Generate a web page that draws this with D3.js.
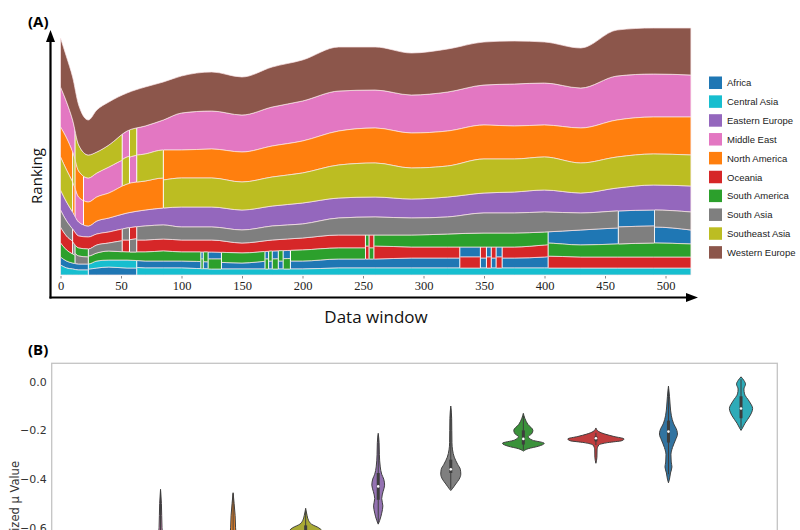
<!DOCTYPE html>
<html><head><meta charset="utf-8">
<script src="https://cdn.jsdelivr.net/npm/d3@7"></script>
<style>body{margin:0;background:#fff} svg{display:block}</style>
</head><body><svg id="c" width="800" height="530"></svg>
<script>
// ---------------- DATA ----------------
const regions = ["Africa","Central Asia","Eastern Europe","Middle East","North America","Oceania","South America","South Asia","Southeast Asia","Western Europe"];
const codes   = ["AF","CA","EE","ME","NA","OC","SA","SAs","SEA","WE"];
const colors  = ["#1f77b4","#17becf","#9467bd","#e377c2","#ff7f0e","#d62728","#2ca02c","#7f7f7f","#bcbd22","#8c564b"];

// data windows at which the ranking scores were read
const windows = [0,5,10,15,23,30,40,55,70,85,100,125,150,175,200,230,260,290,320,350,375,400,430,460,490,521];
const africa        = [8,7,6,6,6,7,8,7,7,7,7,7,6,8,8,9,9,10,10,10,10,11,15,16,16,14];
const centralAsia   = [10,7,6,5,5,7,7,8,7,7,7,6,6,6,6,7,7,7,7,7,7,7,7,7,7,7];
const easternEurope = [20,19,17,14,11,13,14,15,16,17,20,20,20,20,21,20,20,19,20,20,21,22,20,23,25,26];
const middleEast    = [40,36,32,25,24,24,26,26,28,30,37,38,37,39,40,40,38,38,39,40,42,42,40,44,43,42];
const northAmerica  = [30,32,30,26,24,24,25,29,29,30,28,29,30,31,32,34,35,35,35,34,33,32,35,37,37,38];
const oceania       = [16,14,13,12,12,11,11,12,12,12,12,12,10,11,12,13,13,11,11,11,11,12,11,11,11,11];
const southAmerica  = [14,11,9,8,8,8,9,8,9,10,9,10,10,10,11,11,11,12,13,14,14,13,12,13,14,13];
const southAsia     = [17,15,12,8,7,8,8,12,14,14,13,13,13,14,14,17,18,17,17,20,20,20,17,17,17,18];
const southeastAsia = [33,32,30,26,23,21,22,27,27,28,29,29,28,29,30,33,34,31,31,34,33,33,30,31,31,31];
const westernEurope = [49,45,43,40,35,42,43,38,39,38,37,39,38,40,41,44,43,42,43,43,43,41,40,46,46,47];
const seriesValues = [africa,centralAsia,easternEurope,middleEast,northAmerica,oceania,southAmerica,southAsia,southeastAsia,westernEurope];

// ranking order (top -> bottom) within window ranges
const rankSegments = [
  {from:0,  to:10,  order:"WE ME NA SEA EE SAs OC SA AF CA"},
  {from:10, to:12,  order:"WE ME SEA NA EE OC SAs SA AF CA"},
  {from:12, to:19,  order:"WE SEA NA ME EE OC SA SAs AF CA"},
  {from:19, to:23,  order:"WE SEA ME NA EE OC SA SAs AF CA"},
  {from:23, to:51,  order:"WE SEA ME NA EE OC SAs SA CA AF"},
  {from:51, to:57,  order:"WE ME SEA NA EE SAs OC SA CA AF"},
  {from:57, to:63,  order:"WE SEA ME NA EE OC SAs SA CA AF"},
  {from:63, to:85,  order:"WE ME SEA NA EE SAs OC SA AF CA"},
  {from:85, to:116, order:"WE ME NA SEA EE SAs OC SA AF CA"},
  {from:116,to:118, order:"WE ME NA SEA EE SAs OC AF SA CA"},
  {from:118,to:122, order:"WE ME NA SEA EE SAs OC SA AF CA"},
  {from:122,to:133, order:"WE ME NA SEA EE SAs OC AF SA CA"},
  {from:133,to:169, order:"WE ME NA SEA EE SAs OC SA AF CA"},
  {from:169,to:172, order:"WE ME NA SEA EE SAs OC AF SA CA"},
  {from:172,to:175, order:"WE ME NA SEA EE SAs OC SA AF CA"},
  {from:175,to:180, order:"WE ME NA SEA EE SAs OC AF SA CA"},
  {from:180,to:184, order:"WE ME NA SEA EE SAs OC SA AF CA"},
  {from:184,to:190, order:"WE ME NA SEA EE SAs OC AF SA CA"},
  {from:190,to:252, order:"WE ME NA SEA EE SAs OC SA AF CA"},
  {from:252,to:255, order:"WE ME NA SEA EE SAs SA OC AF CA"},
  {from:255,to:259, order:"WE ME NA SEA EE SAs OC SA AF CA"},
  {from:259,to:330, order:"WE ME NA SEA EE SAs SA OC AF CA"},
  {from:330,to:347, order:"WE ME NA SEA EE SAs SA AF OC CA"},
  {from:347,to:352, order:"WE ME NA SEA EE SAs SA OC AF CA"},
  {from:352,to:356, order:"WE ME NA SEA EE SAs SA AF OC CA"},
  {from:356,to:360, order:"WE ME NA SEA EE SAs SA OC AF CA"},
  {from:360,to:365, order:"WE ME NA SEA EE SAs SA AF OC CA"},
  {from:365,to:403, order:"WE ME NA SEA EE SAs SA OC AF CA"},
  {from:403,to:461, order:"WE ME NA SEA EE SAs AF SA OC CA"},
  {from:461,to:491, order:"WE ME NA SEA EE AF SAs SA OC CA"},
  {from:491,to:521, order:"WE ME NA SEA EE SAs AF SA OC CA"}
];
const xTicks = [0,50,100,150,200,250,300,350,400,450,500];

// Panel B: violins (value, relative density)
const violinOrder = ["Western Europe","Middle East","North America","Southeast Asia","Eastern Europe","South Asia","South America","Oceania","Africa","Central Asia"];
const densWE  = [[-0.78,0],[-0.85,0.1],[-0.9,0.3],[-1.0,0.17],[-1.05,0]];
const densME  = [[-0.442,0],[-0.5,0.03],[-0.6,0.05],[-0.7,0.14],[-0.8,0.28],[-0.85,0.17],[-0.9,0]];
const densNA  = [[-0.456,0],[-0.5,0.035],[-0.55,0.07],[-0.6,0.085],[-0.7,0.17],[-0.8,0.31],[-0.86,0]];
const densSEA = [[-0.52,0],[-0.55,0.05],[-0.57,0.1],[-0.585,0.2],[-0.6,0.45],[-0.62,0.59],[-0.65,0.52],[-0.7,0.28],[-0.75,0.07],[-0.77,0]];
const densEE  = [[-0.212,0],[-0.25,0.03],[-0.3,0.04],[-0.35,0.07],[-0.38,0.12],[-0.4,0.19],[-0.425,0.22],[-0.45,0.17],[-0.48,0.12],[-0.51,0.16],[-0.54,0.12],[-0.57,0.05],[-0.585,0]];
const densSAs = [[-0.1,0],[-0.15,0.03],[-0.2,0.035],[-0.25,0.04],[-0.28,0.06],[-0.31,0.12],[-0.34,0.24],[-0.36,0.33],[-0.38,0.345],[-0.4,0.29],[-0.42,0.17],[-0.44,0.05],[-0.447,0]];
const densSA  = [[-0.13,0],[-0.15,0.05],[-0.175,0.155],[-0.2,0.33],[-0.215,0.28],[-0.225,0.17],[-0.24,0.31],[-0.253,0.72],[-0.265,0.52],[-0.275,0.17],[-0.285,0]];
const densOC  = [[-0.19,0],[-0.205,0.1],[-0.215,0.31],[-0.225,0.62],[-0.235,0.97],[-0.242,0.9],[-0.25,0.41],[-0.26,0.1],[-0.28,0.04],[-0.31,0.035],[-0.335,0]];
const densAF  = [[-0.018,0],[-0.06,0.035],[-0.1,0.06],[-0.14,0.1],[-0.17,0.17],[-0.2,0.29],[-0.215,0.31],[-0.24,0.24],[-0.27,0.14],[-0.3,0.085],[-0.33,0.095],[-0.35,0.12],[-0.375,0.07],[-0.4,0.035],[-0.415,0]];
const densCA  = [[0.02,0],[0.005,0.1],[-0.01,0.155],[-0.03,0.1],[-0.05,0.12],[-0.08,0.28],[-0.11,0.4],[-0.14,0.31],[-0.17,0.14],[-0.19,0.05],[-0.2,0]];
const violinDens = [densWE,densME,densNA,densSEA,densEE,densSAs,densSA,densOC,densAF,densCA];
const boxQ1   = [-0.97,-0.83,-0.82,-0.66,-0.485,-0.375,-0.258,-0.245,-0.25,-0.15];
const boxMed  = [-0.92,-0.78,-0.77,-0.62,-0.43,-0.36,-0.235,-0.232,-0.205,-0.11];
const boxQ3   = [-0.87,-0.72,-0.70,-0.59,-0.375,-0.32,-0.2,-0.225,-0.16,-0.06];
const whiskLo = [-1.02,-0.88,-0.84,-0.74,-0.58,-0.44,-0.28,-0.26,-0.38,-0.19];
const whiskHi = [-0.8,-0.45,-0.46,-0.53,-0.22,-0.11,-0.14,-0.21,-0.03,0.01];
const yTicksB = [0,-0.2,-0.4,-0.6];

// ---------------- DRAW ----------------
const svg = d3.select("#c");
const defs = svg.append("defs");
const colorOf = d3.scaleOrdinal().domain(codes).range(colors);

// Panel A
const x = d3.scaleLinear().domain([0,500]).range([60.5,665.5]);
const y = d3.scaleLinear().domain([0,250]).range([275,25]);
const rows = windows.map((w,i)=>{const r={w}; codes.forEach((c,k)=>r[c]=seriesValues[k][i]); return r;});
const segs = rankSegments.map(s=>{
  const bottomUp = s.order.split(" ").reverse();
  const stack = d3.stack().keys(codes).order(()=>bottomUp.map(c=>codes.indexOf(c)))(rows);
  return {from:s.from,to:s.to,bottomUp,stack};
});
const area = d3.area().x(d=>x(d.data.w)).y0(d=>y(d[0])).y1(d=>y(d[1])).curve(d3.curveMonotoneX);
const gA = svg.append("g");
const wMax = windows[windows.length-1];
let clipId = 0;
codes.forEach((c,k)=>{
  const runs=[];
  segs.forEach(s=>{
    const pos = s.bottomUp.indexOf(c);
    const key = s.bottomUp.slice(0,pos).sort().join(",");
    const last = runs[runs.length-1];
    if(last && last.key===key && last.to===s.from) last.to=s.to;
    else runs.push({key,from:s.from,to:s.to,series:s.stack[k]});
  });
  runs.forEach(r=>{
    const id="cl"+(clipId++);
    const x0 = r.from===0 ? x(0)-3 : x(r.from)+0.5;
    const x1 = r.to===wMax ? x(wMax)+3 : x(r.to)-0.5;
    defs.append("clipPath").attr("id",id).append("rect")
      .attr("x",x0).attr("y",0).attr("width",Math.max(0,x1-x0)).attr("height",300);
    gA.append("path").datum(r.series).attr("d",area)
      .attr("fill",colorOf(c)).attr("stroke","#fbe6ea").attr("stroke-width",0.7)
      .attr("clip-path",`url(#${id})`);
  });
});

// axis A
const axA = svg.append("g").attr("transform","translate(0,276)")
  .call(d3.axisBottom(x).tickValues(xTicks).tickSize(2.5).tickPadding(3));
axA.select(".domain").remove();
axA.selectAll("line").attr("stroke","#888");
axA.selectAll("text").attr("font-family","'Liberation Serif', serif").attr("font-size",12.5).attr("fill","#222");

// arrows
svg.append("line").attr("x1",50.5).attr("y1",298.5).attr("x2",50.5).attr("y2",40).attr("stroke","#000").attr("stroke-width",2.2);
svg.append("path").attr("d","M50.5,30 L46,42 L55,42 Z").attr("fill","#000");
svg.append("line").attr("x1",49.5).attr("y1",297.5).attr("x2",688).attr("y2",297.5).attr("stroke","#000").attr("stroke-width",2.2);
svg.append("path").attr("d","M698,297.5 L686,293 L686,302 Z").attr("fill","#000");

svg.append("text").attr("x",28).attr("y",27).text("(A)")
  .attr("font-family","'Open Sans', sans-serif").attr("font-weight",700).attr("font-size",15);
svg.append("text").attr("transform","translate(42,176) rotate(-90)").attr("text-anchor","middle")
  .attr("font-family","'Open Sans', sans-serif").attr("font-size",15).attr("fill","#111").text("Ranking");
svg.append("text").attr("x",376).attr("y",323).attr("text-anchor","middle")
  .attr("font-family","'Open Sans', sans-serif").attr("font-size",17).attr("fill","#111").text("Data window");

// legend
const lg = svg.append("g");
regions.forEach((r,i)=>{
  const yy = 76.5 + i*18.85;
  lg.append("rect").attr("x",709).attr("y",yy).attr("width",13).attr("height",12.5).attr("fill",colors[i]);
  lg.append("text").attr("x",727).attr("y",yy+6.5).attr("dy","0.35em")
    .attr("font-family","'Liberation Sans', Arial, sans-serif").attr("font-size",9.5).attr("fill","#222").text(r);
});

// Panel B
svg.append("text").attr("x",28).attr("y",355).text("(B)")
  .attr("font-family","'Open Sans', sans-serif").attr("font-weight",700).attr("font-size",15);
const bx0=51.7, bx1=777.3, by0=363.3;
const xb = d3.scaleBand().domain(violinOrder).range([bx0,bx1]);
const yb = d3.scaleLinear().domain([0,-0.6]).range([381.7,527.8]);
const wScale = d3.scaleLinear().domain([0,1]).range([0,29]);
const gB = svg.append("g");
const desat = c=>{const h=d3.hsl(c); h.s*=0.75; return h.formatHex();};
violinOrder.forEach((name,i)=>{
  const cx = xb(name)+xb.bandwidth()/2;
  const col = colors[regions.indexOf(name)];
  const va = d3.area().y(d=>yb(d[0])).x0(d=>cx-wScale(d[1])).x1(d=>cx+wScale(d[1])).curve(d3.curveMonotoneY);
  gB.append("path").datum(violinDens[i]).attr("d",va)
    .attr("fill",desat(col)).attr("stroke","#3f3f3f").attr("stroke-width",1);
  gB.append("line").attr("x1",cx).attr("x2",cx).attr("y1",yb(whiskHi[i])).attr("y2",yb(whiskLo[i]))
    .attr("stroke","#3d3d3d").attr("stroke-width",1);
  gB.append("line").attr("x1",cx).attr("x2",cx).attr("y1",yb(boxQ3[i])).attr("y2",yb(boxQ1[i]))
    .attr("stroke","#3d3d3d").attr("stroke-width",3);
  gB.append("circle").attr("cx",cx).attr("cy",yb(boxMed[i])).attr("r",1.3).attr("fill","#fff");
});
svg.append("rect").attr("x",bx0).attr("y",by0).attr("width",bx1-bx0).attr("height",200)
  .attr("fill","none").attr("stroke","#c4c4c4").attr("stroke-width",1.3);
const axB = svg.append("g").attr("transform",`translate(${bx0},0)`)
  .call(d3.axisLeft(yb).tickValues(yTicksB).tickSize(0).tickPadding(5).tickFormat(d3.format(".1f")));
axB.select(".domain").remove();
axB.selectAll("text").attr("font-family","'DejaVu Sans', sans-serif").attr("font-size",11).attr("fill","#333");
svg.append("text").attr("transform","translate(19,461) rotate(-90)").attr("text-anchor","end")
  .attr("font-family","'DejaVu Sans', sans-serif").attr("font-size",11.5).attr("fill","#333").text("Normalized μ Value");
</script></body></html>
